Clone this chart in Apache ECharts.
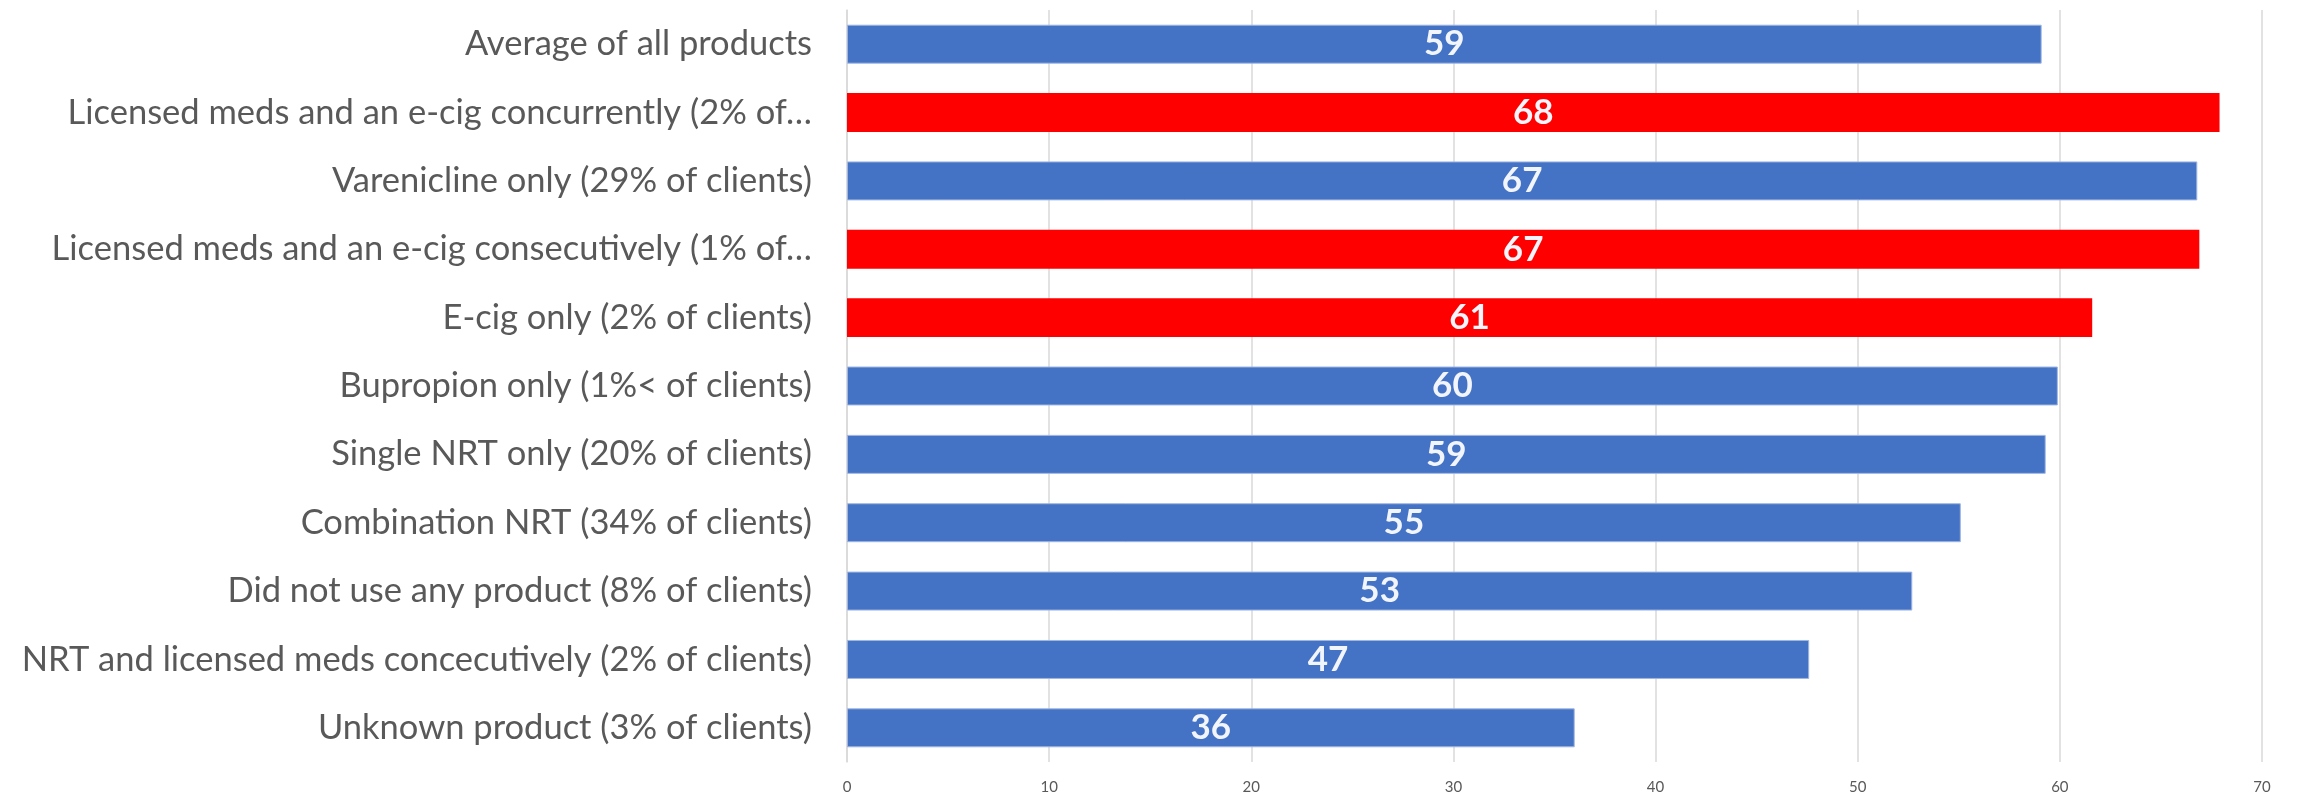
<!DOCTYPE html>
<html>
<head>
<meta charset="utf-8">
<script src="https://cdn.jsdelivr.net/npm/echarts@6/dist/echarts.min.js"></script>
<style>
  html, body { margin: 0; padding: 0; background: #fff; }
  #main { width: 2298px; height: 799px; }
</style>
</head>
<body>
<div id="main"></div>
<script>
// categories top to bottom, as shown (long names are cut off in the original)
var categories = [
  "Average of all products",
  "Licensed meds and an e-cig concurrently (2% of…",
  "Varenicline only (29% of clients)",
  "Licensed meds and an e-cig consecutively (1% of…",
  "E-cig only (2% of clients)",
  "Bupropion only (1%< of clients)",
  "Single NRT only (20% of clients)",
  "Combination NRT (34% of clients)",
  "Did not use any product (8% of clients)",
  "NRT and licensed meds concecutively (2% of clients)",
  "Unknown product (3% of clients)"
];
var values = [59.1, 67.9, 66.8, 66.9, 61.6, 59.9, 59.3, 55.1, 52.7, 47.6, 36.0];
var valueLabels = ["59", "68", "67", "67", "61", "60", "59", "55", "53", "47", "36"];
var highlighted = [false, true, false, true, true, false, false, false, false, false, false];

var blue = "#4472C4";
var red = "#FF0000";

var myChart = echarts.init(document.getElementById("main"));

var barData = values.map(function (v, i) {
  return {
    value: v,
    itemStyle: highlighted[i]
      ? { color: red, borderWidth: 0 }
      : { color: blue, borderColor: "#9fb6e3", borderWidth: 1 }
  };
});

var option = {
  animation: false,
  backgroundColor: "#fff",
  grid: { left: 847, right: 36, top: 10, bottom: 37, containLabel: false },
  xAxis: {
    type: "value",
    min: 0,
    max: 70,
    interval: 10,
    axisLine: { show: false },
    axisTick: { show: false },
    splitLine: { show: true, lineStyle: { color: "#d9d9d9", width: 1.5 } },
    axisLabel: {
      color: "#595959",
      fontFamily: "Lato",
      fontSize: 15,
      margin: 18
    }
  },
  yAxis: {
    type: "category",
    inverse: true,
    data: categories,
    axisLine: { show: true, lineStyle: { color: "#d9d9d9", width: 1.5 } },
    axisTick: { show: false },
    axisLabel: {
      color: "#595959",
      fontFamily: "Lato",
      fontSize: 34.5,
      margin: 35
    }
  },
  series: [
    {
      type: "bar",
      data: barData,
      barCategoryGap: "43%",
      label: {
        show: true,
        position: "inside",
        color: "#F2F6FC",
        fontFamily: "Lato",
        fontWeight: "bold",
        fontSize: 35,
        formatter: function (p) { return valueLabels[p.dataIndex]; }
      }
    }
  ]
};

myChart.setOption(option);
</script>
</body>
</html>
